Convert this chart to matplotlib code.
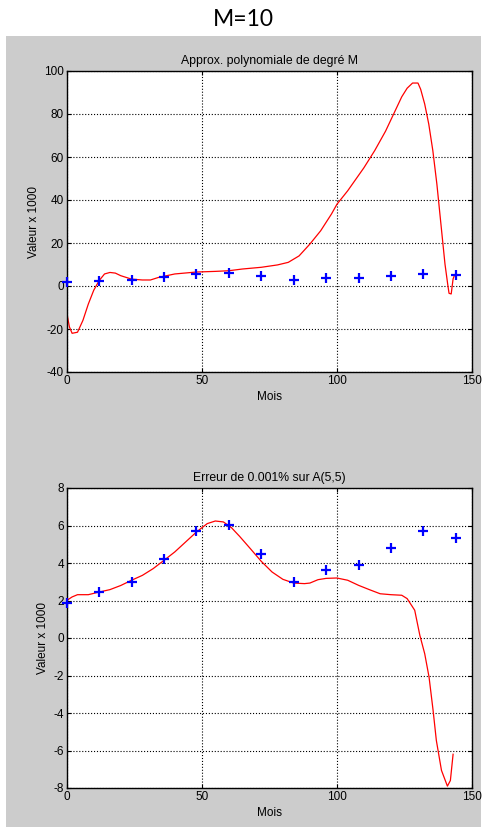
import matplotlib
matplotlib.use("Agg")
import matplotlib.pyplot as plt
from matplotlib.patches import Rectangle

# donnees (valeurs x 1000)
mois = [0, 12, 24, 36, 48, 60, 72, 84, 96, 108, 120, 132, 144]
valeurs = [1.87, 2.44, 2.99, 4.21, 5.71, 6.01, 4.5, 2.99, 3.61, 3.91, 4.82, 5.71, 5.32]

# approximation polynomiale de degre M
approx_x = [0, 1, 2, 4, 6, 8, 10, 12, 14, 16, 18, 20, 24, 28, 31, 34, 40, 48, 55, 60,
            65, 72, 78, 82, 86, 90, 94, 98, 100, 104, 110, 114, 118, 121, 124, 126,
            128, 130, 131, 132.5, 134, 135.5, 137, 138.5, 140, 141, 141.5, 142.3, 143, 143.6]
approx_y = [-12.2, -19, -22, -21.5, -16, -8.4, -2, 2.5, 5.6, 6.3, 6.0, 4.8, 3.2, 2.8, 2.8,
            4, 5.6, 6.5, 6.8, 7.1, 7.9, 8.7, 9.8, 11, 14, 19.5, 25.7, 33.5, 38, 44.3, 55,
            63, 72, 80, 88, 92, 94.4, 94.4, 91.5, 84.6, 75.3, 63, 47.4, 28.8, 10.2, 0.9,
            -3.4, -3.7, 3.3, 5.3]

# approximation avec erreur de 0.001% sur A(5,5)
err_x = [0, 2, 4, 8, 12, 16, 20, 24, 28, 32, 36, 40, 44, 48, 52, 55, 58, 61, 64, 68, 72,
         76, 80, 84, 88, 90, 93, 96, 100, 104, 108, 112, 116, 120, 124, 126, 128.8, 130.7,
         132.5, 134.1, 135.6, 136.8, 138.7, 140.9, 142, 143]
err_y = [2.0, 2.19, 2.31, 2.31, 2.45, 2.58, 2.8, 3.08, 3.34, 3.7, 4.14, 4.59, 5.12, 5.65,
         6.1, 6.24, 6.19, 5.88, 5.42, 4.76, 4.09, 3.52, 3.13, 2.93, 2.9, 2.93, 3.11, 3.18,
         3.2, 3.08, 2.81, 2.58, 2.36, 2.31, 2.28, 2.1, 1.48, 0.14, -0.84, -2.08, -3.86,
         -5.46, -7.06, -7.9, -7.6, -6.2]

plt.rcParams['font.family'] = ['Liberation Sans', 'DejaVu Sans']
plt.rcParams['font.size'] = 8.5
plt.rcParams['axes.unicode_minus'] = False

fig = plt.figure(figsize=(4.86, 8.27), dpi=100, facecolor='white')
fond = Rectangle((6 / 486, 0), 475 / 486, 1 - 36 / 827, transform=fig.transFigure,
                 facecolor='#cccccc', edgecolor='none', zorder=-10)
fig.add_artist(fond)
fig.text(0.5, 1 - 20 / 827, 'M=10', ha='center', va='center', fontsize=16.5,
         family=['Lato', 'DejaVu Sans'])


def panneau(rect, cx, cy, titre, ylim, yticks):
    ax = fig.add_axes(rect)
    ax.plot(cx, cy, color='red', lw=0.9)
    ax.plot(mois, valeurs, '+', color='blue', ms=7, mew=1.6, clip_on=False, zorder=3)
    ax.set_xlim(0, 150)
    ax.set_ylim(*ylim)
    ax.set_xticks([0, 50, 100, 150])
    ax.set_yticks(yticks)
    ax.grid(True, color='black', linestyle=':', lw=0.8)
    ax.tick_params(direction='in', length=3, top=True, right=True, pad=2)
    ax.set_title(titre, fontsize=8.8, pad=5)
    ax.set_xlabel('Mois', labelpad=3)
    ax.set_ylabel('Valeur x 1000', labelpad=3)
    for s in ax.spines.values():
        s.set_linewidth(1.0)
    return ax


panneau([66.7 / 486, 1 - 372 / 827, 405.3 / 486, 301 / 827], approx_x, approx_y,
        'Approx. polynomiale de degré M', (-40, 100), range(-40, 101, 20))
panneau([66.7 / 486, 1 - 788 / 827, 405.3 / 486, 300 / 827], err_x, err_y,
        'Erreur de 0.001% sur A(5,5)', (-8, 8), range(-8, 9, 2))

fig.savefig('out.png', dpi=100)
